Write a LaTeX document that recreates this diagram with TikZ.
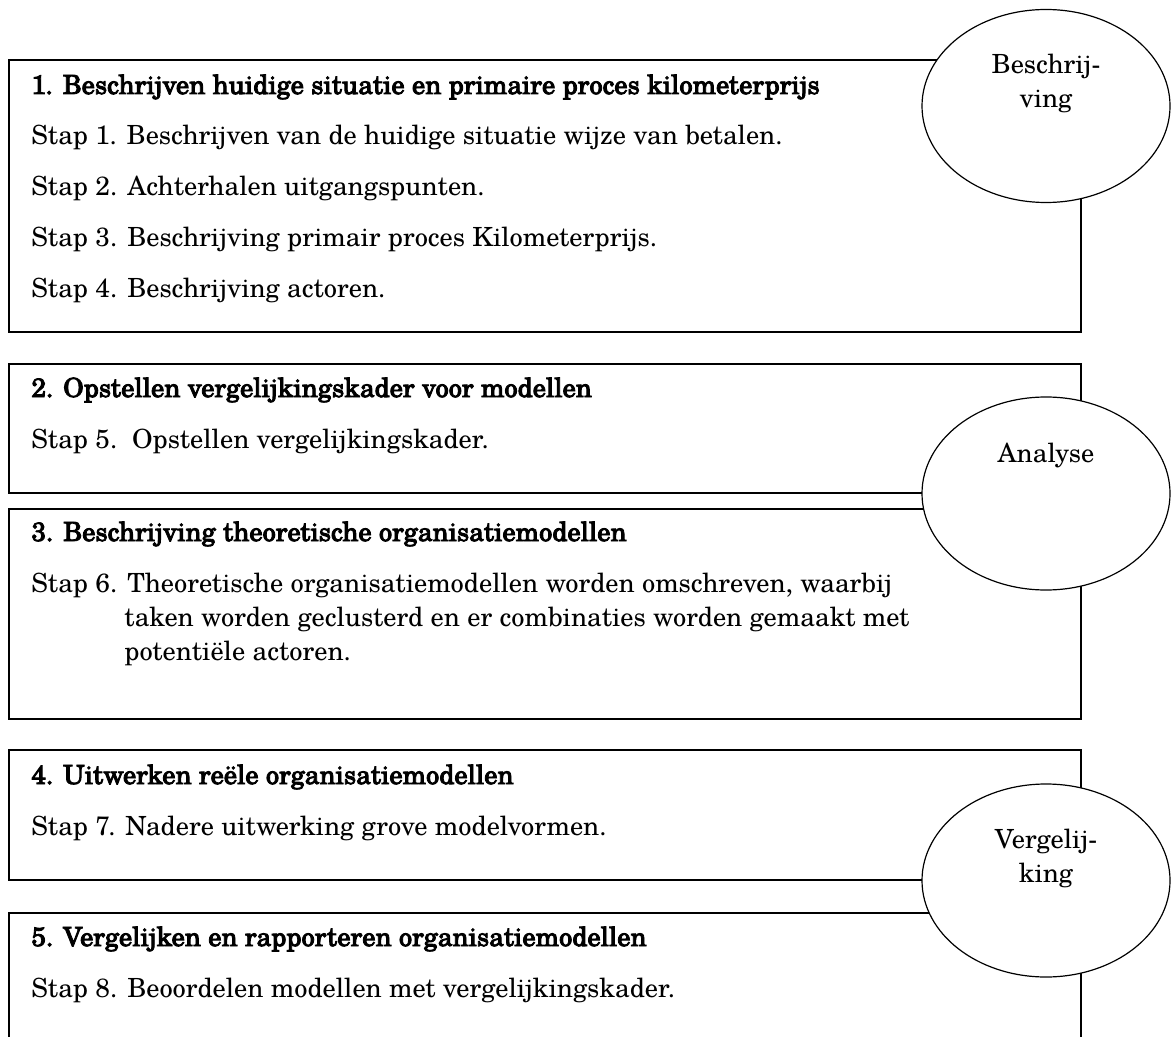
\documentclass[tikz,border=0pt]{standalone}
\usepackage{fontspec}
\setmainfont{texgyreschola}[Extension=.otf, UprightFont=*-regular, BoldFont=*-regular, BoldFeatures={FakeBold=3.2}]
\usetikzlibrary{shapes.geometric}
\begin{document}
\begin{tikzpicture}[x=0.5pt,y=-0.5pt,
  boxline/.style={draw=black, line width=0.7pt},
  txt/.style={anchor=base west, inner sep=0pt, font=\fontsize{13.2pt}{16pt}\selectfont},
  head/.style={txt, font=\fontsize{13.2pt}{16pt}\selectfont\bfseries},
  phase/.style={ellipse, draw=black, fill=white, line width=0.6pt, minimum width=124pt, minimum height=96.5pt, inner sep=0pt},
  phasetxt/.style={anchor=base, inner sep=0pt, font=\fontsize{13.2pt}{16pt}\selectfont}]
\useasboundingbox (0,0) rectangle (1171,1037);
% boxes
\draw[boxline] (9,60) rectangle (1081,332);
\draw[boxline] (9,364) rectangle (1081,493);
\draw[boxline] (9,509) rectangle (1081,719);
\draw[boxline] (9,750) rectangle (1081,880);
\draw[boxline] (9,1040) -- (9,913) -- (1081,913) -- (1081,1040);
% box texts
\node[head] (h1) at (31,94) {1. Beschrijven huidige situatie en primaire proces kilometerprijs};
\node[txt] (s1) at (31,145) {Stap 1. Beschrijven van de huidige situatie wijze van betalen.};
\node[txt] (s2) at (31,196) {Stap 2. Achterhalen uitgangspunten.};
\node[txt] (s3) at (31,247) {Stap 3. Beschrijving primair proces Kilometerprijs.};
\node[txt] (s4) at (31,298) {Stap 4. Beschrijving actoren.};
\node[head] (h2) at (31,397) {2. Opstellen vergelijkingskader voor modellen};
\node[txt] (s5) at (31,448) {Stap 5.\ \ Opstellen vergelijkingskader.};
\node[head] (h3) at (31,541) {3. Beschrijving theoretische organisatiemodellen};
\node[txt] (s6a) at (31,592) {Stap 6. Theoretische organisatiemodellen worden omschreven, waarbij};
\node[txt] (s6b) at (124,626) {taken worden geclusterd en er combinaties worden gemaakt met};
\node[txt] (s6c) at (124,660) {potentiële actoren.};
\node[head] (h4) at (31,784) {4. Uitwerken reële organisatiemodellen};
\node[txt] (s7) at (31,835) {Stap 7. Nadere uitwerking grove modelvormen.};
\node[head] (h5) at (31,946) {5. Vergelijken en rapporteren organisatiemodellen};
\node[txt] (s8) at (31,997) {Stap 8. Beoordelen modellen met vergelijkingskader.};
% phase ellipses
\node[phase] (e1) at (1046,106) {};
\node[phase] (e2) at (1046,493.5) {};
\node[phase] (e3) at (1046,880.5) {};
\node[phasetxt] (e1a) at (1046,74) {Beschrij-};
\node[phasetxt] (e1b) at (1046,108) {ving};
\node[phasetxt] (e2a) at (1046,462) {Analyse};
\node[phasetxt] (e3a) at (1046,848) {Vergelij-};
\node[phasetxt] (e3b) at (1046,882) {king};
\end{tikzpicture}
\end{document}
